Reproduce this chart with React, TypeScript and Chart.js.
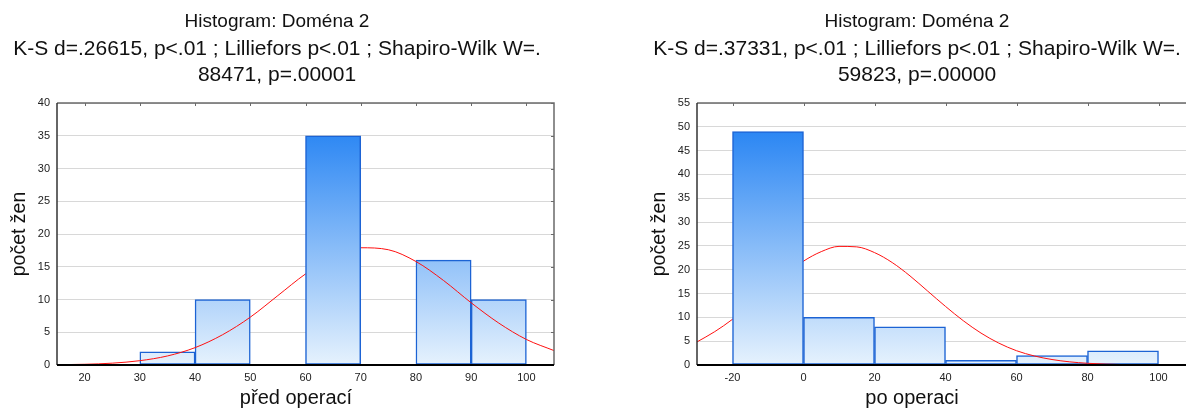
import React, { useEffect, useRef } from 'react';
import { Chart, registerables } from 'chart.js';
Chart.register(...registerables);

const FONT = "'Liberation Sans', Arial, Helvetica, sans-serif";

// ---------- Left histogram: před operací ----------
const preTitle = 'Histogram: Doména 2';
const preSubtitle = ['K-S d=.26615, p<.01 ; Lilliefors p<.01 ; Shapiro-Wilk W=.', '88471, p=.00001'];
const preXLabel = 'před operací';
const preBinCenters = [25, 35, 45, 55, 65, 75, 85, 95];
const preCounts = [0, 2, 10, 0, 35, 0, 16, 10];
const preCurveX = [15, 20, 25, 30, 35, 40, 45, 50, 55, 60, 65, 70, 75, 80, 85, 90, 95, 100, 105];
const preCurveY = [0.04, 0.11, 0.28, 0.66, 1.38, 2.65, 4.63, 7.3, 10.6, 13.9, 16.5, 17.9, 17.6, 15.8, 12.9, 9.5, 6.4, 3.9, 2.2];
const preXTicks = [20, 30, 40, 50, 60, 70, 80, 90, 100];
const preYTicks = [0, 5, 10, 15, 20, 25, 30, 35, 40];

// ---------- Right histogram: po operaci ----------
const postTitle = 'Histogram: Doména 2';
const postSubtitle = ['K-S d=.37331, p<.01 ; Lilliefors p<.01 ; Shapiro-Wilk W=.', '59823, p=.00000'];
const postXLabel = 'po operaci';
const postBinCenters = [-10, 10, 30, 50, 70, 90];
const postCounts = [49, 10, 8, 1, 2, 3];
const postCurveX = [-30, -25, -20, -15, -10, -5, 0, 5, 10, 15, 20, 25, 30, 35, 40, 45, 50, 55, 60, 65, 70, 75, 80, 85, 90, 95, 100, 105, 110];
const postCurveY = [4.85, 7.0, 9.6, 12.7, 15.9, 19.0, 21.8, 23.8, 24.9, 24.8, 23.6, 21.5, 18.7, 15.5, 12.3, 9.3, 6.7, 4.6, 3.0, 1.9, 1.15, 0.66, 0.36, 0.19, 0.09, 0.04, 0.02, 0.01, 0.0];
const postXTicks = [-20, 0, 20, 40, 60, 80, 100];
const postYTicks = [0, 5, 10, 15, 20, 25, 30, 35, 40, 45, 50, 55];

const framePlugin = {
  id: 'frame',
  afterDatasetsDraw(chart: any) {
    const { ctx, chartArea, scales } = chart;
    const { left, right, top, bottom } = chartArea;
    const x = scales.x;
    const y = scales.y;
    ctx.save();
    ctx.strokeStyle = '#6a6a6a';
    ctx.lineWidth = 1.5;
    ctx.beginPath();
    ctx.moveTo(left, top);
    ctx.lineTo(right, top);
    ctx.lineTo(right, bottom);
    ctx.stroke();
    ctx.lineWidth = 1;
    ctx.beginPath();
    x.ticks.forEach((t: any) => {
      const px = Math.round(x.getPixelForValue(t.value)) + 0.5;
      ctx.moveTo(px, top);
      ctx.lineTo(px, top + 3);
    });
    y.ticks.forEach((t: any) => {
      const py = Math.round(y.getPixelForValue(t.value)) + 0.5;
      ctx.moveTo(right, py);
      ctx.lineTo(right - 3, py);
    });
    ctx.stroke();
    ctx.strokeStyle = '#333';
    ctx.lineWidth = 1.5;
    ctx.beginPath();
    ctx.moveTo(left, top);
    ctx.lineTo(left, bottom);
    ctx.stroke();
    ctx.strokeStyle = '#000';
    ctx.lineWidth = 2;
    ctx.beginPath();
    ctx.moveTo(left, bottom);
    ctx.lineTo(right, bottom);
    ctx.stroke();
    ctx.restore();
  },
};

// x-axis caption drawn under the axis, centred at a given canvas x
const xCaptionPlugin = {
  id: 'xCaption',
  afterDraw(chart: any, _args: any, opts: any) {
    const { ctx } = chart;
    ctx.save();
    ctx.fillStyle = '#111';
    ctx.font = `20px ${FONT}`;
    ctx.textAlign = 'center';
    ctx.textBaseline = 'middle';
    ctx.fillText(opts.text, opts.cx, opts.cy);
    ctx.restore();
  },
};

type HistProps = {
  left: number;
  title: string;
  subtitle: string[];
  xLabel: string;
  xLabelCx: number;
  binCenters: number[];
  counts: number[];
  curveX: number[];
  curveY: number[];
  xTicks: number[];
  yTicks: number[];
  xMin: number;
  xMax: number;
  yMax: number;
};

const W = 562;
const H = 414;

function Histogram(p: HistProps) {
  const ref = useRef<HTMLCanvasElement | null>(null);
  useEffect(() => {
    if (!ref.current) return;
    const gradientFill = (c: any) => {
      const { chart } = c;
      const area = chart.chartArea;
      if (!area) return '#8fc3f8';
      const g = chart.ctx.createLinearGradient(0, area.bottom, 0, area.top);
      g.addColorStop(0, '#e6f2fd');
      g.addColorStop(1, '#1479f2');
      return g;
    };
    const peak = Math.max(...p.counts);
    const pts = p.binCenters.map((x, i) => ({ x, y: p.counts[i] }));
    const barStyle = {
      type: 'bar',
      backgroundColor: gradientFill,
      borderColor: '#1c63d4',
      borderWidth: 1.5,
      borderSkipped: false,
      barPercentage: 1,
      categoryPercentage: 1,
      grouped: false,
    };
    const chart = new Chart(ref.current, {
      data: {
        datasets: [
          // tallest bin drawn above the fitted curve
          { ...barStyle, data: pts.filter((d) => d.y === peak), order: 0 } as any,
          {
            type: 'line',
            data: p.curveX.map((x, i) => ({ x, y: p.curveY[i] })),
            borderColor: '#ff1010',
            borderWidth: 1,
            pointRadius: 0,
            cubicInterpolationMode: 'monotone',
            order: 1,
          } as any,
          // remaining bins drawn below the curve
          { ...barStyle, data: pts.filter((d) => d.y !== peak), order: 2 } as any,
        ],
      },
      options: {
        responsive: false,
        animation: false,
        devicePixelRatio: 1,
        layout: { padding: { left: 0, right: 8, top: 0, bottom: 0 } },
        plugins: {
          legend: { display: false },
          tooltip: { enabled: false },
          title: {
            display: true,
            text: p.title,
            color: '#111',
            font: { family: FONT, size: 19, weight: 'normal', lineHeight: '26px' } as any,
            padding: { top: 9, bottom: 0 },
          },
          subtitle: {
            display: true,
            text: p.subtitle,
            color: '#111',
            font: { family: FONT, size: 21, weight: 'normal', lineHeight: '26px' } as any,
            padding: { top: 1, bottom: 15 },
          },
          xCaption: { text: p.xLabel, cx: p.xLabelCx, cy: 398 },
        },
        scales: {
          x: {
            type: 'linear',
            offset: false,
            min: p.xMin,
            max: p.xMax,
            afterBuildTicks: (a: any) => {
              a.ticks = p.xTicks.map((v) => ({ value: v }));
            },
            afterFit: (a: any) => {
              a.height = 49;
            },
            grid: { display: false, drawTicks: false, offset: false },
            border: { display: false },
            ticks: {
              color: '#222',
              font: { family: FONT, size: 11 },
              padding: 6,
              autoSkip: false,
              maxRotation: 0,
            },
            title: { display: false },
          },
          y: {
            type: 'linear',
            min: 0,
            max: p.yMax,
            afterBuildTicks: (a: any) => {
              a.ticks = p.yTicks.map((v) => ({ value: v }));
            },
            afterFit: (a: any) => {
              a.width = 57;
            },
            grid: { color: '#d8d8d8', lineWidth: 1, drawTicks: false },
            border: { display: false },
            ticks: {
              color: '#222',
              font: { family: FONT, size: 11 },
              padding: 7,
            },
            title: {
              display: true,
              text: 'počet žen',
              color: '#111',
              font: { family: FONT, size: 19.5 },
              padding: { top: 8.3, bottom: 0 },
            },
          },
        },
      } as any,
      plugins: [framePlugin as any, xCaptionPlugin as any],
    });
    return () => chart.destroy();
  }, []);
  return (
    <canvas
      ref={ref}
      width={W}
      height={H}
      style={{ position: 'absolute', left: p.left, top: 0, width: W, height: H }}
    />
  );
}

export default function App() {
  return (
    <div
      style={{
        position: 'absolute',
        left: 0,
        top: 0,
        width: 1186,
        height: 414,
        overflow: 'hidden',
        background: '#fff',
      }}
    >
      <Histogram
        left={0}
        title={preTitle}
        subtitle={preSubtitle}
        xLabel={preXLabel}
        xLabelCx={296}
        binCenters={preBinCenters}
        counts={preCounts}
        curveX={preCurveX}
        curveY={preCurveY}
        xTicks={preXTicks}
        yTicks={preYTicks}
        xMin={15}
        xMax={105}
        yMax={40}
      />
      <Histogram
        left={640}
        title={postTitle}
        subtitle={postSubtitle}
        xLabel={postXLabel}
        xLabelCx={272}
        binCenters={postBinCenters}
        counts={postCounts}
        curveX={postCurveX}
        curveY={postCurveY}
        xTicks={postXTicks}
        yTicks={postYTicks}
        xMin={-30}
        xMax={110}
        yMax={55}
      />
    </div>
  );
}
